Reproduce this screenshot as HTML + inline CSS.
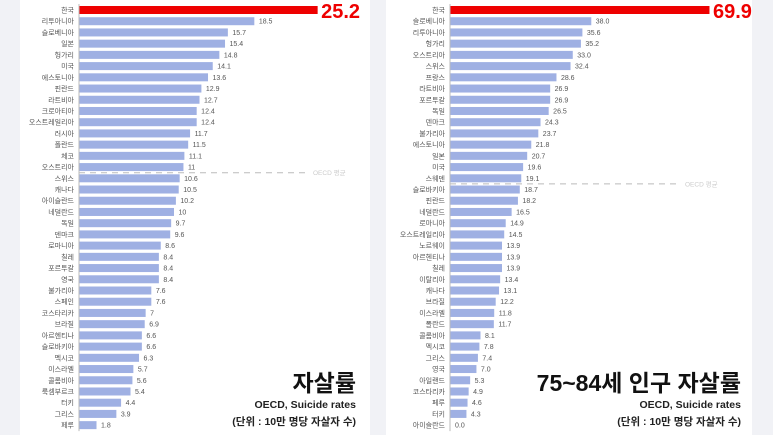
<!DOCTYPE html>
<html><head><meta charset="utf-8"><style>
body{margin:0;width:773px;height:435px;background:#f1f2f6;overflow:hidden;font-family:"Liberation Sans","Noto Sans CJK KR",sans-serif}
svg{display:block}
</style></head><body>
<svg id="c" width="773" height="435">
<rect x="20" y="0" width="350" height="435" fill="#fff"/>
<rect x="386" y="0" width="366" height="435" fill="#fff"/>
</svg>
<script>
const leftCategories=["한국","리투아니아","슬로베니아","일본","헝가리","미국","에스토니아","핀란드","라트비아","크로아티아","오스트레일리아","러시아","폴란드","체코","오스트리아","스위스","캐나다","아이슬란드","네덜란드","독일","덴마크","로마니아","칠레","포르투갈","영국","불가리아","스페인","코스타리카","브라질","아르헨티나","슬로바키아","멕시코","이스라엘","콜롬비아","룩셈부르크","터키","그리스","페루"];
const leftValues=[25.2,18.5,15.7,15.4,14.8,14.1,13.6,12.9,12.7,12.4,12.4,11.7,11.5,11.1,11,10.6,10.5,10.2,10,9.7,9.6,8.6,8.4,8.4,8.4,7.6,7.6,7,6.9,6.6,6.6,6.3,5.7,5.6,5.4,4.4,3.9,1.8];
const leftLabels=["25.2","18.5","15.7","15.4","14.8","14.1","13.6","12.9","12.7","12.4","12.4","11.7","11.5","11.1","11","10.6","10.5","10.2","10","9.7","9.6","8.6","8.4","8.4","8.4","7.6","7.6","7","6.9","6.6","6.6","6.3","5.7","5.6","5.4","4.4","3.9","1.8"];
const rightCategories=["한국","슬로베니아","리투아니아","헝가리","오스트리아","스위스","프랑스","라트비아","포르투갈","독일","덴마크","불가리아","에스토니아","일본","미국","스웨덴","슬로바키아","핀란드","네덜란드","로마니아","오스트레일리아","노르웨이","아르헨티나","칠레","이탈리아","캐나다","브라질","이스라엘","폴란드","콜롬비아","멕시코","그리스","영국","아일랜드","코스타리카","페루","터키","아이슬란드"];
const rightValues=[69.9,38.0,35.6,35.2,33.0,32.4,28.6,26.9,26.9,26.5,24.3,23.7,21.8,20.7,19.6,19.1,18.7,18.2,16.5,14.9,14.5,13.9,13.9,13.9,13.4,13.1,12.2,11.8,11.7,8.1,7.8,7.4,7.0,5.3,4.9,4.6,4.3,0.0];
const leftOecd=10.8, rightOecd=18.9;

const svg=document.getElementById('c');
const NS='http://www.w3.org/2000/svg';
function mk(t,a,txt){const e=document.createElementNS(NS,t);for(const k in a)e.setAttribute(k,a[k]);if(txt!==undefined)e.textContent=txt;svg.appendChild(e);return e;}

function chart(cfg){
  const {cats,vals,labels,x0,scale,y0,pitch,oecdIdx,lineEnd,pre}=cfg;
  const xs=v=>x0+v*scale, ys=i=>y0+i*pitch;
  let ax=mk('line',{x1:x0,y1:ys(0)-6,x2:x0,y2:ys(cats.length-1)+6,stroke:'#bbb','stroke-width':1});
  
  
  cats.forEach((c,i)=>{
    const y=ys(i);
    let t=mk('text',{x:x0-5,y:y+2.5,'font-size':7,'text-anchor':'end',fill:'#555'},c);
    
    
    const w=Math.max(0,xs(vals[i])-x0);
    let r=mk('rect',{x:x0+0.5,y:y-4,width:w,height:8,fill:i===0?'#ee0000':'#9fb0e3'});
    
    
    const lab=labels?labels[i]:vals[i].toFixed(1);
    if(i===0){
      let v=mk('text',{x:xs(vals[i])+4,y:y+8,'font-size':20,'font-weight':'bold',fill:'#ee0000'},lab);
      
      
    }else{
      let v=mk('text',{x:xs(vals[i])+5,y:y+2.5,'font-size':7,fill:'#555'},lab);
      
      
    }
  });
  const ly=(ys(oecdIdx)+ys(oecdIdx+1))/2;
  let d=mk('line',{x1:x0,y1:ly,x2:lineEnd,y2:ly,stroke:'#bbb','stroke-width':1,'stroke-dasharray':'6,5'});
  
  
  let dt=mk('text',{x:lineEnd+5,y:ly+2.5,'font-size':6.5,fill:'#ccc'},'OECD 평균');
  
  
}
chart({cats:leftCategories,vals:leftValues,labels:leftLabels,x0:79,scale:9.45,y0:10,pitch:11.22,oecdIdx:14,lineEnd:308,pre:'left'});
chart({cats:rightCategories,vals:rightValues,x0:450,scale:3.705,y0:10,pitch:11.22,oecdIdx:15,lineEnd:680,pre:'right'});

function titles(xr,title,pre){
  let t=mk('text',{x:xr,y:391,'font-size':23,'font-weight':'bold','text-anchor':'end',fill:'#111'},title);
  
  
  let s=mk('text',{x:xr,y:408,'font-size':10.5,'font-weight':'bold','text-anchor':'end',fill:'#222'},'OECD, Suicide rates');
  
  
  let u=mk('text',{x:xr,y:425,'font-size':10.5,'font-weight':'bold','text-anchor':'end',fill:'#222'},'(단위 : 10만 명당 자살자 수)');
  
  
}
titles(356,'자살률','left');
titles(741,'75~84세 인구 자살률','right');
</script>
</body></html>
